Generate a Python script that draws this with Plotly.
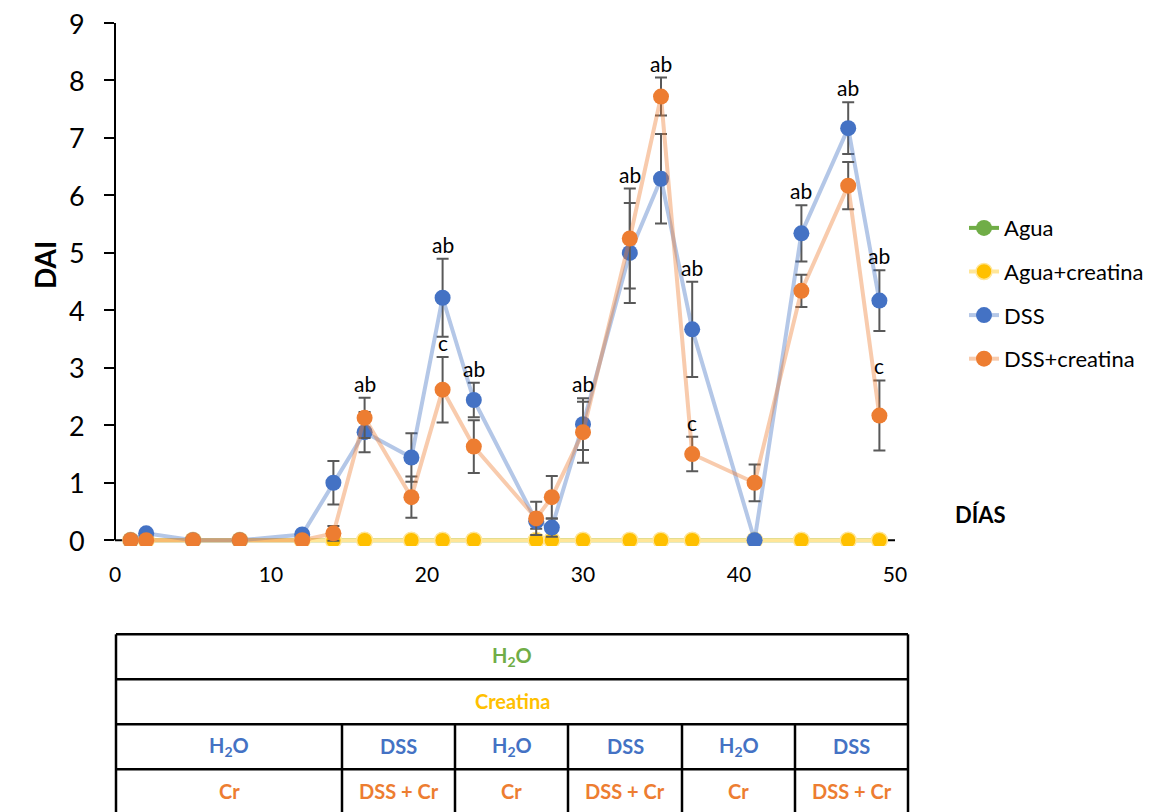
import plotly.graph_objects as go

# Days of measurement
days = [1, 2, 5, 8, 12, 14, 16, 19, 21, 23, 27, 28, 30, 33, 35, 37, 41, 44, 47, 49]

# Disease activity index per group (mean and error)
agua = [0] * len(days)
agua_creatina = [0] * len(days)
dss = [0, 0.12, 0, 0, 0.10, 1.00, 1.88, 1.44, 4.22, 2.44, 0.33, 0.22, 2.02, 5.00, 6.29, 3.67, 0, 5.34, 7.17, 4.17]
dss_err = [0, 0.06, 0, 0, 0.06, 0.38, 0.35, 0.42, 0.68, 0.30, 0.13, 0.16, 0.45, 0.87, 0.78, 0.83, 0, 0.49, 0.45, 0.53]
dss_cr = [0, 0, 0, 0, 0, 0.12, 2.13, 0.75, 2.62, 1.63, 0.38, 0.75, 1.88, 5.25, 7.72, 1.50, 1.00, 4.34, 6.17, 2.17]
dss_cr_err = [0, 0, 0, 0, 0, 0.13, 0.35, 0.36, 0.57, 0.46, 0.29, 0.37, 0.53, 0.87, 0.33, 0.30, 0.32, 0.28, 0.41, 0.61]

# Axis ticks
x_ticks = [0, 10, 20, 30, 40, 50]
y_ticks = [0, 1, 2, 3, 4, 5, 6, 7, 8, 9]

# Significance letters: (day, text)
sig_labels = [(16, "ab"), (21, "ab"), (21, "c"), (23, "ab"), (30, "ab"), (33, "ab"),
              (35, "ab"), (37, "ab"), (37, "c"), (44, "ab"), (47, "ab"), (49, "ab"), (49, "c")]

# Treatment schedule table
table_row1 = "H<sub>2</sub>O"
table_row2 = "Creatina"
table_row3 = ["H<sub>2</sub>O", "DSS", "H<sub>2</sub>O", "DSS", "H<sub>2</sub>O", "DSS"]
table_row4 = ["Cr", "DSS + Cr", "Cr", "DSS + Cr", "Cr", "DSS + Cr"]

FONT = "Lato"
W, H = 1154, 812
X_MIN, X_MAX = 0, 50
Y_MIN, Y_MAX = -0.1, 9          # a little room below zero so the baseline is not clipped
PL, PR = 115, 895                # x = 0 and x = 50 in pixels
PT, Y0 = 23, 540                 # y = 9 and y = 0 in pixels
UNIT = (Y0 - PT) / Y_MAX
PB = Y0 - Y_MIN * UNIT           # bottom edge of the plot area


def px_x(px):
    return (px - PL) / (PR - PL)


def px_y(py):
    return (PB - py) / (PB - PT)


fig = go.Figure()

err_style = dict(type="data", color="#595959", thickness=2, width=6)

fig.add_trace(go.Scatter(
    x=days, y=agua, name="Agua", mode="lines+markers", legendgroup="g1",
    line=dict(color="#70AD47", width=4),
    marker=dict(color="#70AD47", size=16)))
fig.add_trace(go.Scatter(
    x=days, y=agua_creatina, name="Agua+creatina", mode="lines+markers", legendgroup="g2",
    line=dict(color="#FFE699", width=4),
    marker=dict(color="#FFC000", size=16, line=dict(color="#FFE699", width=1.5))))
fig.add_trace(go.Scatter(
    x=days, y=dss, name="DSS", mode="lines+markers", legendgroup="g3",
    line=dict(color="rgba(68,114,196,0.4)", width=4),
    marker=dict(color="#4472C4", size=16),
    error_y=dict(array=dss_err, **err_style)))
fig.add_trace(go.Scatter(
    x=days, y=dss_cr, name="DSS+creatina", mode="lines+markers", legendgroup="g4",
    line=dict(color="rgba(237,125,49,0.4)", width=4),
    marker=dict(color="#ED7D31", size=16),
    error_y=dict(array=dss_cr_err, **err_style)))

# Significance letters sit just above the error bar tops
annotations = []
for day, txt in sig_labels:
    i = days.index(day)
    top_cr = dss_cr[i] + dss_cr_err[i]
    top_dss = dss[i] + dss_err[i]
    y = top_cr if txt == "c" else max(top_cr, top_dss)
    annotations.append(dict(x=day, y=y, xref="x", yref="y", text=txt, showarrow=False,
                            xanchor="center", yanchor="bottom", yshift=0,
                            font=dict(family=FONT, size=21, color="black")))

# Y tick labels
for v in y_ticks:
    annotations.append(dict(x=px_x(87), y=v, xref="paper", yref="y", text=str(v), showarrow=False,
                            xanchor="right", yanchor="middle",
                            font=dict(family=FONT, size=27, color="black")))

annotations.append(dict(x=px_x(45), y=px_y(265), xref="paper", yref="paper", text="<b>DAI</b>",
                        textangle=-90, showarrow=False, xanchor="center", yanchor="middle",
                        font=dict(family=FONT, size=28, color="black")))
annotations.append(dict(x=px_x(980), y=px_y(514), xref="paper", yref="paper", text="<b>DÍAS</b>",
                        showarrow=False, xanchor="center", yanchor="middle",
                        font=dict(family=FONT, size=22, color="black")))

shapes = []
# Axis lines, kept beneath the data so the baseline series covers them
shapes.append(dict(type="line", xref="x", yref="y", x0=X_MIN, x1=X_MAX, y0=0, y1=0, layer="below",
                   line=dict(color="black", width=2)))
shapes.append(dict(type="line", xref="paper", yref="y", x0=0, x1=0, y0=0, y1=Y_MAX, layer="below",
                   line=dict(color="black", width=2)))

# Table beneath the chart
row_lines = [634, 679, 724, 769]
col_edges = [116, 342, 455, 568, 682, 795, 908]
bottom_px = 830
lw = 2.5
for ry in row_lines:
    shapes.append(dict(type="line", xref="paper", yref="paper", x0=px_x(col_edges[0]), x1=px_x(col_edges[-1]),
                       y0=px_y(ry), y1=px_y(ry), line=dict(color="black", width=lw)))
for cx in (col_edges[0], col_edges[-1]):
    shapes.append(dict(type="line", xref="paper", yref="paper", x0=px_x(cx), x1=px_x(cx),
                       y0=px_y(row_lines[0]), y1=px_y(bottom_px), line=dict(color="black", width=lw)))
for cx in col_edges[1:-1]:
    shapes.append(dict(type="line", xref="paper", yref="paper", x0=px_x(cx), x1=px_x(cx),
                       y0=px_y(row_lines[2]), y1=px_y(bottom_px), line=dict(color="black", width=lw)))

tfont = dict(family=FONT, size=20)
mid_all = px_x((col_edges[0] + col_edges[-1]) / 2)
row_centers = [656, 701, 746, 791]
annotations.append(dict(x=mid_all, y=px_y(row_centers[0]), xref="paper", yref="paper",
                        text="<b>" + table_row1 + "</b>", showarrow=False, xanchor="center", yanchor="middle",
                        font=dict(color="#70AD47", **tfont)))
annotations.append(dict(x=mid_all, y=px_y(row_centers[1]), xref="paper", yref="paper",
                        text="<b>" + table_row2 + "</b>", showarrow=False, xanchor="center", yanchor="middle",
                        font=dict(color="#FFC000", **tfont)))
for k in range(6):
    cx = px_x((col_edges[k] + col_edges[k + 1]) / 2)
    annotations.append(dict(x=cx, y=px_y(row_centers[2]), xref="paper", yref="paper",
                            text="<b>" + table_row3[k] + "</b>", showarrow=False,
                            xanchor="center", yanchor="middle",
                            font=dict(color="#4472C4", **tfont)))
    annotations.append(dict(x=cx, y=px_y(row_centers[3]), xref="paper", yref="paper",
                            text="<b>" + table_row4[k] + "</b>", showarrow=False,
                            xanchor="center", yanchor="middle",
                            font=dict(color="#ED7D31", **tfont)))

fig.update_layout(
    width=W, height=H,
    margin=dict(l=PL, r=W - PR, t=PT, b=H - PB, pad=0, autoexpand=False),
    paper_bgcolor="white", plot_bgcolor="white",
    font=dict(family=FONT, color="black"),
    showlegend=True,
    legend=dict(x=px_x(964), y=px_y(207), xanchor="left", yanchor="top",
                font=dict(family=FONT, size=22, color="black"),
                tracegroupgap=12, bgcolor="rgba(0,0,0,0)"),
    annotations=annotations,
    shapes=shapes,
)
fig.update_xaxes(range=[X_MIN, X_MAX], tickvals=x_ticks, showline=False, showgrid=False,
                 zeroline=False, ticks="", ticklabelstandoff=14,
                 tickfont=dict(family=FONT, size=21, color="black"))
fig.update_yaxes(range=[Y_MIN, Y_MAX], tickvals=y_ticks, showline=False, showgrid=False,
                 zeroline=False, ticks="outside", ticklen=10, tickwidth=2,
                 tickcolor="black", showticklabels=False)

fig.write_html("out.html")
